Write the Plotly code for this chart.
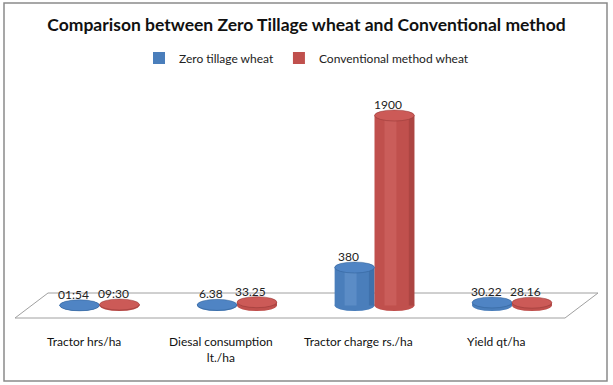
import plotly.graph_objects as go

categories = ["Tractor hrs/ha", "Diesal consumption<br>lt./ha", "Tractor charge rs./ha", "Yield qt/ha"]
zero_tillage = [1.9, 6.38, 380, 30.22]
conventional = [9.5, 33.25, 1900, 28.16]
zero_labels = ["01:54", "6.38", "380", "30.22"]
conv_labels = ["09:30", "33.25", "1900", "28.16"]
series_names = ["Zero tillage wheat", "Conventional method wheat"]

W, H = 613, 385
idx = list(range(len(categories)))
bw = 0.29          # bar width in category units
ell = 55           # half-height of cylinder end ellipse (data units)

blue = dict(body="#4A7EBB", top="#4F84C4", hi="#7AA7DD", dark="#2F5F95")
red = dict(body="#C0504D", top="#CC5A57", hi="#DE7572", dark="#8E3532")

fig = go.Figure()
shapes = []

# chart border
shapes.append(dict(type="rect", xref="paper", yref="paper",
                   x0=4 / W, x1=607 / W, y0=1 - 381 / H, y1=1 - 3 / H,
                   line=dict(color="#8A8A8A", width=1.5), fillcolor="rgba(0,0,0,0)", layer="above"))
# floor
shapes.append(dict(type="path", xref="paper", yref="paper",
                   path=f"M {48/W},{1-293/H} L {598/W},{1-293/H} L {565/W},{1-318/H} L {15/W},{1-318/H} Z",
                   line=dict(color="#A0A0A0", width=1), fillcolor="white", layer="below"))

for vals, labels, name, col, off in [(zero_tillage, zero_labels, series_names[0], blue, -bw),
                                     (conventional, conv_labels, series_names[1], red, 0.0)]:
    fig.add_trace(go.Bar(x=idx, y=vals, width=bw, offset=off, name=name,
                         marker=dict(color=col["body"], line=dict(width=0))))
    # shading stripes
    fig.add_trace(go.Bar(x=idx, y=vals, width=bw * 0.3, offset=off + bw * 0.25, showlegend=False,
                         marker=dict(color=col["hi"], opacity=0.35, line=dict(width=0)), hoverinfo="skip"))
    fig.add_trace(go.Bar(x=idx, y=vals, width=bw * 0.14, offset=off + bw * 0.86, showlegend=False,
                         marker=dict(color=col["dark"], opacity=0.4, line=dict(width=0)), hoverinfo="skip"))
    for i, v, t in zip(idx, vals, labels):
        x0 = i + off
        x1 = i + off + bw
        shapes.append(dict(type="circle", xref="x", yref="y", x0=x0, x1=x1, y0=-ell, y1=ell,
                           fillcolor=col["body"], line=dict(width=0), layer="below"))
        shapes.append(dict(type="circle", xref="x", yref="y", x0=x0, x1=x1, y0=v - ell, y1=v + ell,
                           fillcolor=col["top"], line=dict(color=col["dark"], width=0.5), layer="above"))
        fig.add_annotation(x=i + off + bw / 2, y=v, text=t, showarrow=False, xshift=-6, yshift=11,
                           font=dict(family="Lato", size=12, color="#222222"))

for i, c in zip(idx, categories):
    fig.add_annotation(x=i, y=1 - 332 / H, yref="paper", yanchor="top", text=c, showarrow=False,
                       xshift=-16, font=dict(family="Lato", size=12, color="#111111"))

fig.update_layout(
    width=W, height=H,
    margin=dict(l=0, r=0, t=0, b=0),
    paper_bgcolor="white", plot_bgcolor="rgba(0,0,0,0)",
    barmode="overlay",
    title=dict(text="<b>Comparison between Zero Tillage wheat and Conventional method</b>",
               x=0.5, xanchor="center", y=1 - 25 / H, yanchor="middle",
               font=dict(family="Lato", size=17.5, color="#111111")),
    legend=dict(orientation="h", x=0.5, xanchor="center", y=1 - 58 / H, yanchor="middle",
                font=dict(family="Lato", size=12, color="#222222"), itemwidth=30,
                bgcolor="rgba(0,0,0,0)"),
    xaxis=dict(range=[-99.5 / 137.5, (W - 99.5) / 137.5], visible=False, fixedrange=True),
    yaxis=dict(range=[(305.5 - H) / 0.1, 305.5 / 0.1], visible=False, fixedrange=True),
    shapes=shapes,
    showlegend=True,
)

fig.write_html("out.html", config={"displayModeBar": False},
               post_script="document.body.style.margin='0';document.body.style.overflow='hidden';")
